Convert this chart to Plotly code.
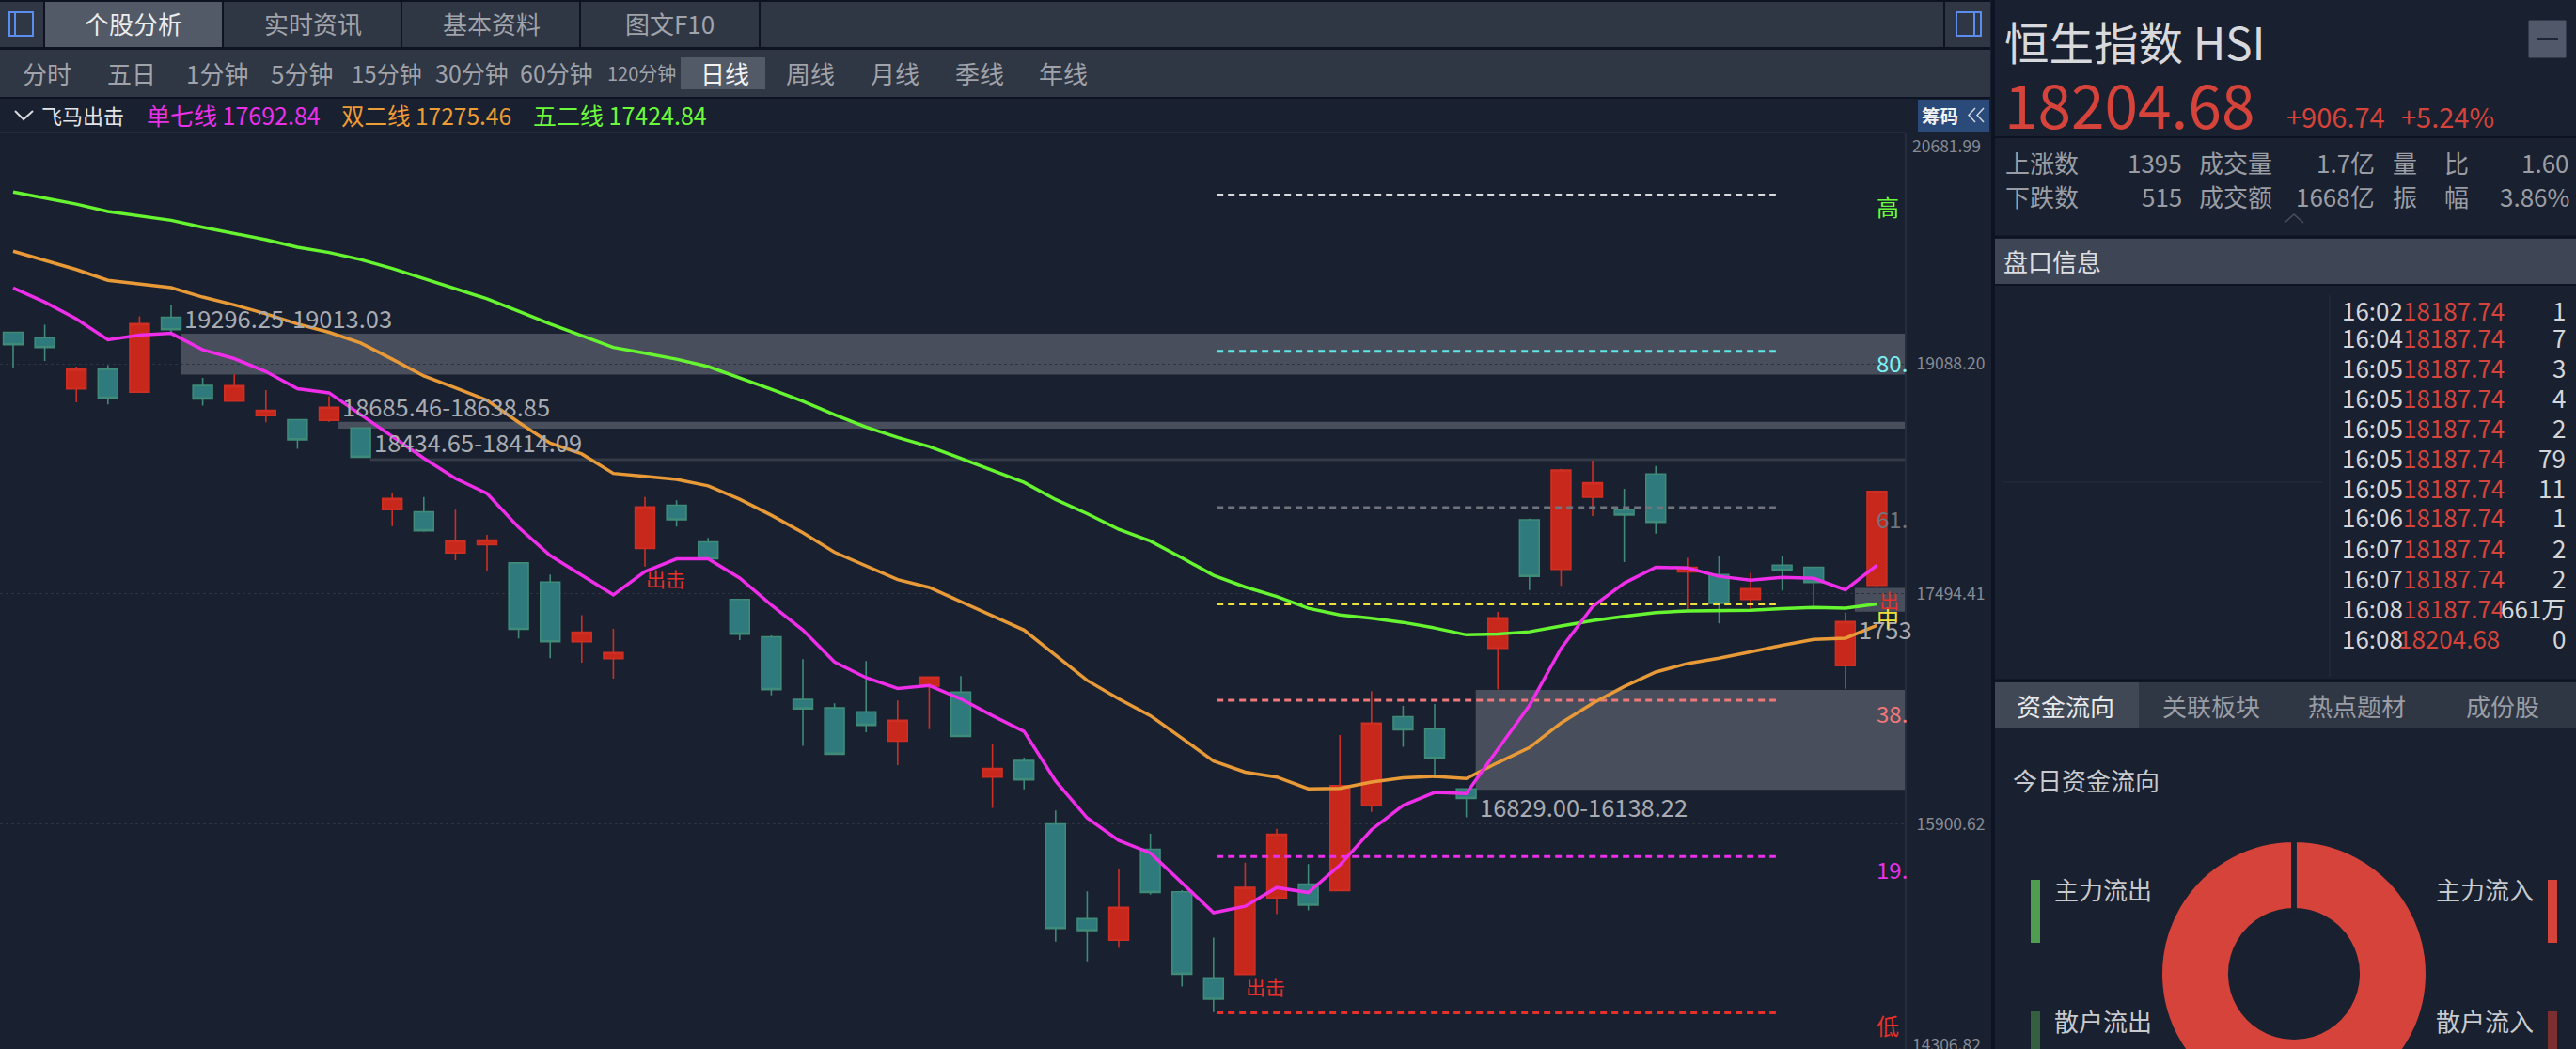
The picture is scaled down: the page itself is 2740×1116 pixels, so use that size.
import plotly.graph_objects as go

WIDTH = 2740
VIEW_HEIGHT = 1116
# the donut runs off the bottom of the window, so the figure is taller than the page
HEIGHT = 1180

BG = '#19202f'
DARK = '#0d1322'
BAR = '#2f3644'
ACTIVE = '#525a68'
RED = '#d5433a'
FONT = 'Noto Sans CJK SC'

candle_open = [19306, 19269, 18915, 19050, 18892, 19410, 18938, 18829, 18729, 18701,
               18697, 18643, 18078, 18062, 17779, 17835, 17709, 17576, 17163, 17046,
               17809, 18108, 17855, 17456, 17197, 16763, 16705, 16677, 16474, 16856,
               16814, 16226, 16340, 15902, 15245, 15096, 15726, 15431, 14835, 14859,
               15389, 15484, 15440, 16030, 16644, 16560, 16144, 17118, 18008, 17665,
               18164, 18078, 18325, 17646, 17628, 17456, 17693, 17679, 16998, 17553]
candle_close = [19220, 19201, 19050, 18850, 19366, 19324, 18845, 18936, 18766, 18562,
                18787, 18441, 18155, 17932, 17862, 17867, 17249, 17163, 17230, 17088,
                18097, 18008, 17737, 17216, 16832, 16698, 16384, 16584, 16619, 16918,
                16507, 16286, 16207, 15177, 15163, 15324, 15426, 14861, 14687, 15461,
                15830, 15338, 16167, 16600, 16553, 16356, 16077, 17328, 17616, 18353,
                18264, 18041, 17990, 17679, 17428, 17530, 17658, 17574, 17302, 18204.68]
candle_high = [19310, 19359, 19069, 19078, 19417, 19496, 18990, 19015, 18906, 18701,
               18864, 18645, 18197, 18166, 18078, 17904, 17709, 17628, 17346, 17253,
               18166, 18143, 17883, 17456, 17207, 17042, 16737, 17030, 16756, 16918,
               16925, 16454, 16360, 15995, 15435, 15586, 15833, 15442, 15114, 15633,
               15868, 15623, 16516, 16821, 16719, 16732, 16144, 17370, 18015, 18360,
               18418, 18222, 18380, 17744, 17753, 17639, 17760, 17680, 17365, 18213]
candle_low = [19062, 19108, 18822, 18806, 18887, 19306, 18799, 18829, 18683, 18499,
              18687, 18439, 17964, 17925, 17728, 17649, 17186, 17049, 17018, 16907,
              17683, 17960, 17737, 17174, 16791, 16442, 16384, 16537, 16309, 16558,
              16507, 16012, 16140, 15086, 14949, 15042, 15412, 14775, 14598, 14859,
              15277, 15303, 15440, 15984, 16435, 16244, 15947, 16832, 17521, 17551,
              18034, 17714, 17911, 17388, 17290, 17388, 17518, 17411, 16837, 17535]

line_dan_qi = [19613, 19515, 19399, 19255, 19287, 19299, 19185, 19124, 19034, 18915,
               18887, 18736, 18585, 18434, 18294, 18190, 17955, 17760, 17623, 17488,
               17649, 17737, 17737, 17604, 17418, 17244, 17023, 16914, 16839, 16860,
               16767, 16651, 16542, 16198, 15942, 15786, 15700, 15496, 15286, 15331,
               15461, 15426, 15616, 15861, 16030, 16119, 16112, 16419, 16721, 17116,
               17407, 17569, 17679, 17674, 17616, 17590, 17609, 17602, 17523, 17692.84]
line_shuang_er = [19868, 19806, 19741, 19666, 19643, 19615, 19550, 19496, 19434, 19364,
                  19306, 19232, 19120, 19004, 18922, 18836, 18683, 18539, 18464, 18329,
                  18308, 18287, 18243, 18150, 18039, 17918, 17783, 17686, 17593, 17539,
                  17442, 17342, 17244, 17070, 16895, 16767, 16651, 16495, 16337, 16260,
                  16226, 16144, 16147, 16191, 16221, 16230, 16216, 16326, 16430, 16600,
                  16737, 16853, 16953, 17012, 17049, 17093, 17139, 17179, 17188, 17275.46]
line_wu_er = [20278, 20236, 20194, 20143, 20115, 20082, 20034, 19992, 19948, 19896,
              19859, 19810, 19748, 19678, 19608, 19538, 19452, 19364, 19283, 19201,
              19162, 19120, 19069, 18992, 18911, 18829, 18736, 18650, 18578, 18515,
              18434, 18353, 18267, 18148, 18050, 17941, 17860, 17744, 17623, 17542,
              17476, 17395, 17349, 17325, 17297, 17258, 17211, 17216, 17232, 17272,
              17309, 17339, 17365, 17376, 17376, 17381, 17393, 17400, 17395, 17424.84]

band_start = [5.3, 10.3, 11.3, 46.3, 58.3]
band_top = [19296.25, 18685.46, 18434.65, 16829.00, 17535]
band_bottom = [19013.03, 18638.85, 18414.09, 16138.22, 17372]
band_text = ['19296.25-19013.03', '18685.46-18638.85', '18434.65-18414.09', '16829.00-16138.22', '1753']

fib_levels = [20257, 19175, 18093, 17425, 16757, 15675, 14593]
fib_start = 38.1
fib_end = 55.8
fib_text = ['高', '80.', '61.', '中', '38.', '19.', '低']

y_ticks = [19088.20, 17494.41, 15900.62]
y_tick_text = ['19088.20', '17494.41', '15900.62']

main_tabs = ['个股分析', '实时资讯', '基本资料', '图文F10']
period_tabs = ['分时', '五日', '1分钟', '5分钟', '15分钟', '30分钟', '60分钟', '120分钟',
               '日线', '周线', '月线', '季线', '年线']
tick_times = ['16:02', '16:04', '16:05', '16:05', '16:05', '16:05', '16:05', '16:06',
              '16:07', '16:07', '16:08', '16:08']
tick_prices = ['18187.74'] * 11 + ['18204.68']
tick_volumes = ['1', '7', '3', '4', '2', '79', '11', '1', '2', '2', '661万', '0']
lower_tabs = ['资金流向', '关联板块', '热点题材', '成份股']
flow_labels = ['主力流入', '主力流出', '散户流入', '散户流出']
flow_values = [100, 0.001, 0, 0]

shapes = []
annotations = []


def px(x):
    return x / WIDTH


def py(y):
    return 1 - y / HEIGHT


def box(x0, y0, x1, y1, fill, line=None, width=0):
    shapes.append(dict(type='rect', xref='paper', yref='paper', layer='below',
                       x0=px(x0), x1=px(x1), y0=py(y0), y1=py(y1),
                       fillcolor=fill, line=dict(color=line or fill, width=width)))


def seg(x0, y0, x1, y1, color, width=2, layer='above'):
    shapes.append(dict(type='line', xref='paper', yref='paper', layer=layer,
                       x0=px(x0), x1=px(x1), y0=py(y0), y1=py(y1),
                       line=dict(color=color, width=width)))


def chevron(x0, y0, x1, y1, x2, y2, color, width=2):
    shapes.append(dict(type='path', xref='paper', yref='paper', layer='above',
                       path='M %f %f L %f %f L %f %f' % (px(x0), py(y0), px(x1), py(y1), px(x2), py(y2)),
                       line=dict(color=color, width=width)))


def label(x, y, text, size, color, anchor='left'):
    # the CJK font sits a little low in its line box
    annotations.append(dict(xref='paper', yref='paper', x=px(x), y=py(y - 2), text=text,
                            showarrow=False, xanchor=anchor, yanchor='middle',
                            font=dict(family=FONT, size=size, color=color),
                            borderpad=0, borderwidth=0))


# window furniture
box(0, 0, 2117, 2, DARK)
box(0, 2, 2117, 50, BAR)
box(0, 50, 2117, 53, DARK)
box(0, 53, 2117, 103, BAR)
box(0, 103, 2117, 105, DARK)
box(48, 2, 236, 50, ACTIVE)
for x in [47, 237, 427, 617, 808, 2068]:
    seg(x, 2, x, 50, DARK, 2, 'below')
box(2118, 0, 2122, 1116, DARK)
box(724, 61, 814, 95, ACTIVE)
seg(0, 141, 2026, 141, '#232a39', 2, 'below')

for x0, x1, inner in [(10, 35, 16), (2081, 2107, 2100)]:
    box(x0, 13, x1, 38, 'rgba(0,0,0,0)', '#5b8def', 2)
    seg(inner, 14, inner, 37, '#5b8def', 2, 'below')

tab_x = [142, 333, 523, 712]
for i, text in enumerate(main_tabs):
    label(tab_x[i], 27, text, 26, '#eceded' if i == 0 else '#a0a3aa', 'center')

period_x = [50, 140, 231, 321, 411, 502, 592, 682, 771, 862, 952, 1042, 1131]
period_size = [26, 26, 26, 26, 24, 25, 25, 20, 26, 26, 26, 26, 26]
for i, text in enumerate(period_tabs):
    label(period_x[i], 79, text, period_size[i], '#f2f2f3' if text == '日线' else '#a0a3aa', 'center')

chevron(16, 118, 25, 127, 35, 118, '#d8d9dc')
label(44, 124, '飞马出击', 22, '#e4e5e8')
label(156, 124, '单七线 17692.84', 25, '#ea30e8')
label(363, 124, '双二线 17275.46', 24.5, '#ee9c35')
label(567, 124, '五二线 17424.84', 25, '#6cfb3a')

box(2040, 106, 2116, 140, '#2a4a7a')
label(2044, 124, '<b>筹码</b>', 19.5, '#f2f3f5')
chevron(2101, 115, 2094, 122.5, 2101, 130, '#d0d6e2', 1.5)
chevron(2110, 115, 2103, 122.5, 2110, 130, '#d0d6e2', 1.5)

# y axis end labels, the two extreme values sit inside the panel
label(2034, 157, '20681.99', 17.5, '#878b94')
label(2034, 1112, '14306.82', 17.5, '#878b94')

# quote panel
label(2132, 45, '恒生指数 HSI', 47.5, '#d8d9dd')
label(2132, 111, '18204.68', 64, RED)
label(2432, 125, '+906.74', 29, RED)
label(2554, 125, '+5.24%', 29, RED)
box(2690, 22, 2729, 61, '#50586a', '#50586a', 1)
seg(2698, 41.5, 2721, 41.5, '#1e2534', 3)
seg(2122, 146, 2740, 146, DARK, 2, 'below')

GREY = '#9a9da4'
stat_rows = [
    (174, ['上涨数', '1395', '成交量', '1.7亿', '量', '比', '1.60']),
    (210, ['下跌数', '515', '成交额', '1668亿', '振', '幅', '3.86%']),
]
stat_cols = [(2133, 'left'), (2321, 'right'), (2339, 'left'), (2526, 'right'),
             (2545, 'left'), (2600, 'left'), (2733, 'right')]
for y, items in stat_rows:
    for (x, anchor), text in zip(stat_cols, items):
        label(x, y, text, 26, GREY, anchor)

chevron(2430, 237, 2440, 228, 2450, 237, '#4a505d', 1.5)

seg(2122, 252, 2740, 252, DARK, 3, 'below')
box(2122, 254, 2740, 302, '#3e4655')
seg(2122, 303, 2740, 303, DARK, 2, 'below')
label(2131, 280, '盘口信息', 26, '#dcdde0')

seg(2478, 314, 2478, 720, '#232a3a', 1.5, 'below')
seg(2130, 513, 2470, 513, '#232a3a', 1.5, 'below')

row_y = [332, 360, 392, 424, 456, 488, 520, 551, 584, 616, 648, 680]
for i, y in enumerate(row_y):
    label(2491, y, tick_times[i], 26, '#d4d6da')
    label(2551 if i == 11 else 2556, y, tick_prices[i], 26, RED)
    label(2729, y, tick_volumes[i], 26, '#d4d6da', 'right')

seg(2122, 724, 2740, 724, DARK, 3, 'below')
box(2122, 726, 2740, 774, BAR)
box(2122, 726, 2275, 774, '#404856')
lower_x = [2197, 2352, 2507, 2662]
for i, text in enumerate(lower_tabs):
    label(lower_x[i], 752, text, 26, '#e8e9ec' if i == 0 else GREY, 'center')

label(2141, 831, '今日资金流向', 26, '#c8cace')
box(2160, 936, 2170, 1003, '#4f9d4f')
box(2710, 936, 2720, 1003, RED)
box(2160, 1076, 2170, 1180, '#34603f')
box(2710, 1076, 2720, 1180, '#7c2e30')
label(2185, 947, flow_labels[1], 26, '#c8cace')
label(2695, 947, flow_labels[0], 26, '#c8cace', 'right')
label(2185, 1087, flow_labels[3], 26, '#c8cace')
label(2695, 1087, flow_labels[2], 26, '#c8cace', 'right')

# chart region
band_fill = ['#484e5b', '#484e5b', '#343a47', '#484e5b', '#484e5b']
for i in range(len(band_start)):
    shapes.append(dict(type='rect', xref='x', yref='y', layer='below',
                       x0=band_start[i], x1=59.88, y0=band_bottom[i], y1=band_top[i],
                       fillcolor=band_fill[i], line=dict(width=0)))
    below = i >= 3
    annotations.append(dict(xref='x', yref='y', x=band_start[i],
                            y=band_bottom[i] if below else band_top[i], text=band_text[i],
                            showarrow=False, xanchor='left', yanchor='top' if below else 'bottom',
                            font=dict(family=FONT, size=25.5, color='#a8abb2'),
                            xshift=2, yshift=3 if below else -3))

fib_colors = ['#d8d9dc', '#5fe6e6', '#6f747d', '#ece13a', '#f0787a', '#ea30e8', '#e8302a']
fib_label_colors = ['#6cfb3a', '#7af2f4', '#6f747d', '#ece13a', '#f0787a', '#ea30e8', '#e8302a']
fib_label_y = [221, 387, 553, 658, 760, 926, 1092]
for i, text in enumerate(fib_text):
    label(1996, fib_label_y[i], text, 24, fib_label_colors[i])

label(687, 617, '出击', 21, '#e8302a')
label(1325, 1051, '出击', 21, '#e8302a')
label(1999, 640, '出', 21, '#e8302a')

fig = go.Figure()

fig.add_trace(go.Candlestick(
    x=list(range(len(candle_open))), open=candle_open, high=candle_high,
    low=candle_low, close=candle_close, name='HSI', whiskerwidth=0,
    increasing=dict(line=dict(color='#cf2f22', width=1.6), fillcolor='#c8281b'),
    decreasing=dict(line=dict(color='#3f8a78', width=1.6), fillcolor='#2e7a7c'),
    hoverinfo='skip', showlegend=False,
))

for i, level in enumerate(fib_levels):
    fig.add_trace(go.Scatter(
        x=[fib_start, fib_end], y=[level, level], mode='lines', hoverinfo='skip',
        line=dict(color=fib_colors[i], width=3, dash='7px,5px'), showlegend=False,
    ))

fig.add_trace(go.Scatter(y=line_shuang_er, mode='lines', name='双二线', hoverinfo='skip',
                         line=dict(color='#e89a38', width=3.5), showlegend=False))
fig.add_trace(go.Scatter(y=line_wu_er, mode='lines', name='五二线', hoverinfo='skip',
                         line=dict(color='#66f530', width=3.5), showlegend=False))
fig.add_trace(go.Scatter(y=line_dan_qi, mode='lines', name='单七线', hoverinfo='skip',
                         line=dict(color='#ee2ee8', width=3.5), showlegend=False))

fig.add_trace(go.Pie(
    labels=flow_labels, values=flow_values, hole=0.474, sort=False, direction='clockwise',
    rotation=0, textinfo='none', hoverinfo='skip', showlegend=False,
    marker=dict(colors=[RED, '#4f9d4f', '#7c2e30', '#34603f'], line=dict(color=BG, width=5)),
    domain=dict(x=[px(2297.5), px(2582.5)], y=[py(1178.5), py(893.5)]),
))

fig.update_layout(
    width=WIDTH, height=HEIGHT, autosize=False,
    margin=dict(l=0, r=0, t=0, b=0, pad=0),
    paper_bgcolor=BG, plot_bgcolor='rgba(0,0,0,0)',
    boxgap=0.38, boxgroupgap=0,
    hovermode=False, dragmode=False,
    shapes=shapes, annotations=annotations,
    xaxis=dict(
        domain=[0, px(2026)], range=[-0.4167, 59.88], rangeslider=dict(visible=False),
        showgrid=False, zeroline=False, showticklabels=False, showline=False, ticks='',
    ),
    yaxis=dict(
        domain=[py(1116), py(141)], range=[14342.4, 20689.7], side='right',
        tickvals=y_ticks, ticktext=y_tick_text, ticks='outside', ticklen=7,
        tickcolor='rgba(0,0,0,0)', tickfont=dict(family=FONT, size=17.5, color='#878b94'),
        showgrid=True, gridcolor='#2c3341', gridwidth=1, griddash='dot',
        zeroline=False, showline=True, linecolor='#262d3c', linewidth=2, mirror=False,
    ),
)

page_setup = (
    "document.documentElement.style.overflow='hidden';"
    "document.body.style.margin='0';"
    "document.body.style.overflow='hidden';"
    "document.body.style.height='%dpx';"
    "document.body.style.background='%s';" % (VIEW_HEIGHT, BG)
)
fig.write_html("out.html", post_script=page_setup, config=dict(displayModeBar=False))
